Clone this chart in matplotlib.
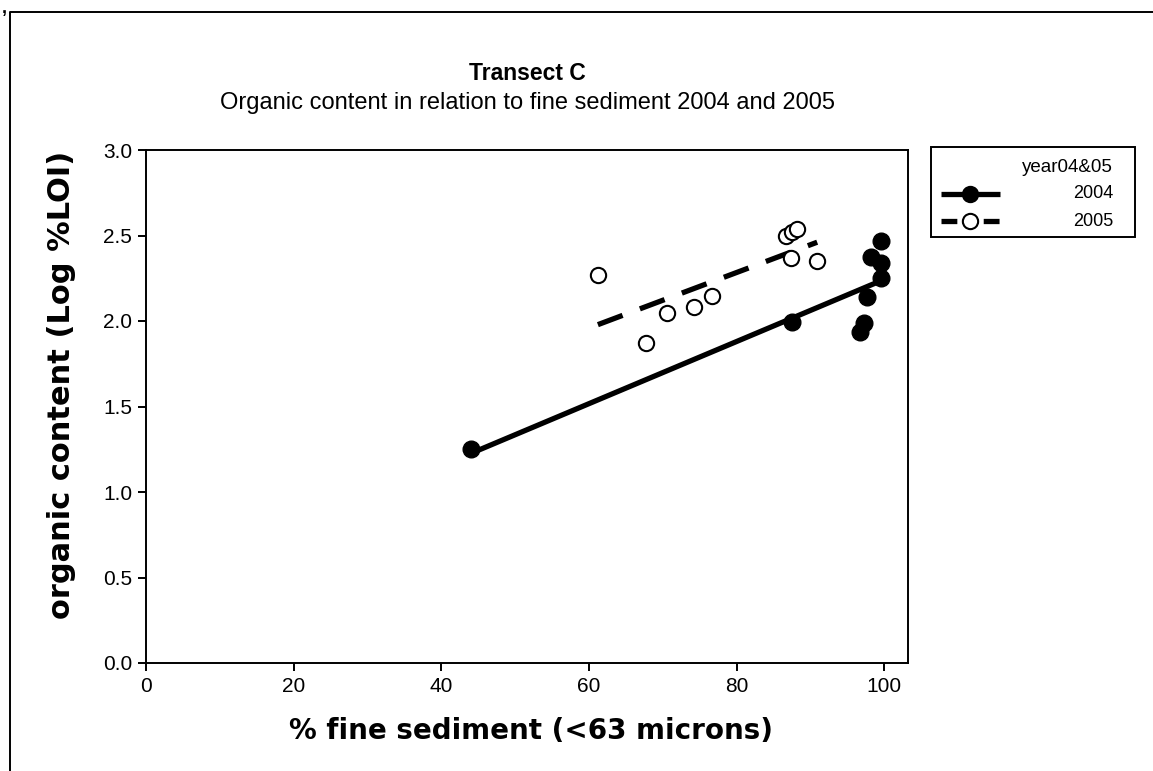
import numpy as np
import matplotlib.pyplot as plt
from matplotlib.lines import Line2D
from matplotlib.patches import Rectangle

plt.rcParams['font.family'] = ['Liberation Sans', 'DejaVu Sans']

# 2004 samples: % fine sediment vs log %LOI
fine_2004 = [44.0, 87.5, 97.2, 96.7, 97.7, 99.6, 98.2, 99.5, 99.6]
loi_2004 = [1.25, 1.996, 1.987, 1.934, 2.142, 2.468, 2.376, 2.337, 2.25]

# 2005 samples
fine_2005 = [61.2, 67.7, 70.5, 74.2, 76.6, 86.7, 87.5, 88.1, 87.3, 90.9]
loi_2005 = [2.27, 1.87, 2.045, 2.08, 2.146, 2.50, 2.52, 2.536, 2.367, 2.353]

years = ['2004', '2005']

fig = plt.figure(figsize=(11.53, 7.71), dpi=100)
ax = fig.add_axes([146/1153, 108/771, 762/1153, 513/771])

# fitted lines
for xs, ys, ls in [(fine_2004, loi_2004, '-'), (fine_2005, loi_2005, (0, (5, 3.5)))]:
    xs = np.array(xs)
    ys = np.array(ys)
    k, b = np.polyfit(xs, ys, 1)
    xx = np.array([xs.min(), xs.max()])
    ax.plot(xx, k * xx + b, color='black', lw=3.8, ls=ls, solid_capstyle='butt', zorder=2)

ax.plot(fine_2004, loi_2004, 'o', ms=12, mfc='black', mec='black', zorder=3)
ax.plot(fine_2005, loi_2005, 'o', ms=11, mfc='white', mec='black', mew=1.5, zorder=3)

ax.set_xlim(0, 103.2)
ax.set_ylim(0, 3.0)
ax.set_xticks([0, 20, 40, 60, 80, 100])
ax.set_yticks([0, 0.5, 1.0, 1.5, 2.0, 2.5, 3.0])
ax.set_yticklabels(['0.0', '0.5', '1.0', '1.5', '2.0', '2.5', '3.0'])
ax.tick_params(labelsize=15, length=6, width=1.4, direction='out', pad=4)
for s in ax.spines.values():
    s.set_linewidth(1.4)

fig.text(527/1153, 1 - 73/771, 'Transect C', ha='center', va='center',
         fontsize=16.5, fontweight='bold')
fig.text(527/1153, 1 - 103/771, 'Organic content in relation to fine sediment 2004 and 2005',
         ha='center', va='center', fontsize=17)
fig.text(531/1153, 1 - 731/771, '% fine sediment (<63 microns)', ha='center', va='center',
         fontsize=20, fontweight='bold', family='DejaVu Sans')
fig.text(62/1153, 1 - 385/771, 'organic content (Log %LOI)', ha='center', va='center',
         fontsize=22, fontweight='bold', rotation=90, family='DejaVu Sans')

# legend box
fig.add_artist(Rectangle((931/1153, 1 - 237/771), 204/1153, 90/771, transform=fig.transFigure,
                         fill=False, ec='black', lw=1.4))
fig.text(1113/1153, 1 - 168/771, 'year04&05', ha='right', va='center', fontsize=13.5)
for i, (yr, mfc, ls) in enumerate(zip(years, ['black', 'white'], ['-', (0, (3, 1))])):
    yy = 1 - (194 + 27 * i) / 771
    fig.add_artist(Line2D([941/1153, 1000/1153], [yy, yy], transform=fig.transFigure,
                          color='black', lw=3.8, ls=ls, solid_capstyle='butt'))
    fig.add_artist(Line2D([970/1153], [yy], transform=fig.transFigure, marker='o', ms=11,
                          mfc=mfc, mec='black', mew=1.5, ls='none'))
    fig.text(1113/1153, yy, yr, ha='right', va='center', fontsize=13)

# outer frame and stray comma
fig.add_artist(Line2D([10/1153, 10/1153, 1], [0, 1 - 12/771, 1 - 12/771],
                      transform=fig.transFigure, color='black', lw=1.4))
fig.text(2/1153, 1.0, ',', ha='left', va='top', fontsize=13, fontweight='bold')

plt.savefig('out.png', dpi=100)
